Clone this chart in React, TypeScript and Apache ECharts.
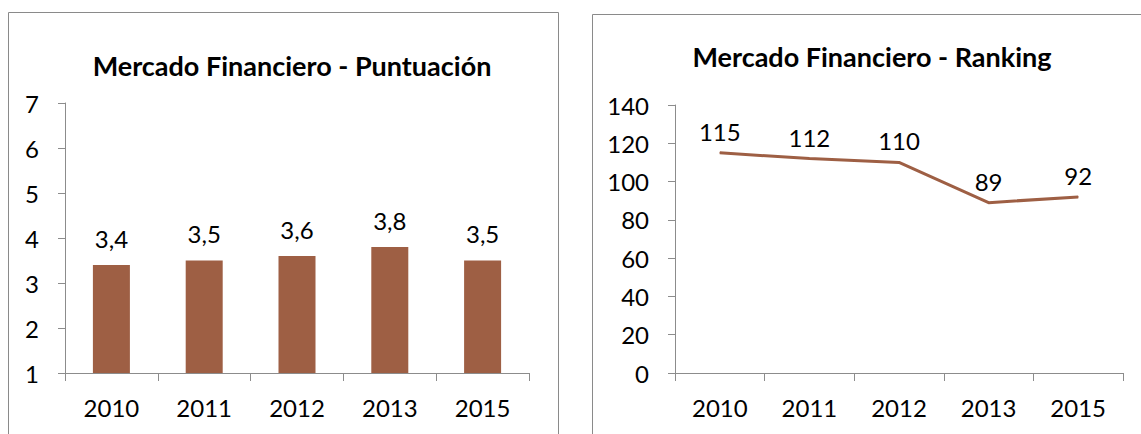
import React, { useEffect, useRef } from "react";
import * as echarts from "echarts";

const years = ["2010", "2011", "2012", "2013", "2015"];
const puntuacion = [3.4, 3.5, 3.6, 3.8, 3.5];
const ranking = [115, 112, 110, 89, 92];
const titleLeft = "Mercado Financiero - Puntuación";
const titleRight = "Mercado Financiero - Ranking";

const FONT = "Lato, 'Open Sans', sans-serif";
const BROWN = "#9E5F44";
const AXIS = "#8C8C8C";

export default function App() {
  const ref = useRef<HTMLDivElement>(null);
  useEffect(() => {
    if (!ref.current) return;
    const chart = echarts.init(ref.current, undefined, { renderer: "svg" });
    const axisLabel = { color: "#000", fontSize: 24, fontFamily: FONT };
    chart.setOption({
      animation: false,
      backgroundColor: "#fff",
      graphic: [
        { type: "rect", shape: { x: 8.5, y: 12.5, width: 550, height: 460 }, style: { fill: "none", stroke: "#8A8A8A", lineWidth: 1 } },
        { type: "rect", shape: { x: 592.5, y: 14.5, width: 600, height: 460 }, style: { fill: "none", stroke: "#8A8A8A", lineWidth: 1 } },
        { type: "text", x: 292, y: 65, style: { text: titleLeft, textAlign: "center", textVerticalAlign: "middle", font: `bold 27px ${FONT}`, fill: "#000" } },
        { type: "text", x: 872, y: 56, style: { text: titleRight, textAlign: "center", textVerticalAlign: "middle", font: `bold 27px ${FONT}`, fill: "#000" } },
      ],
      grid: [
        { left: 65, top: 103, width: 464, height: 270 },
        { left: 675, top: 105, width: 448, height: 268 },
      ],
      xAxis: [0, 1].map((i) => ({
        type: "category",
        gridIndex: i,
        data: years,
        boundaryGap: true,
        axisLine: { lineStyle: { color: AXIS, width: 1 } },
        axisTick: { show: true, length: 8, lineStyle: { color: AXIS }, alignWithLabel: false },
        axisLabel: { ...axisLabel, margin: 22 },
      })),
      yAxis: [
        {
          type: "value", gridIndex: 0, min: 1, max: 7, interval: 1,
          splitLine: { show: false },
          axisLine: { show: true, lineStyle: { color: AXIS } },
          axisTick: { show: true, length: 7, lineStyle: { color: AXIS } },
          axisLabel: { ...axisLabel, margin: 26 },
        },
        {
          type: "value", gridIndex: 1, min: 0, max: 140, interval: 20,
          splitLine: { show: false },
          axisLine: { show: true, lineStyle: { color: AXIS } },
          axisTick: { show: true, length: 7, lineStyle: { color: AXIS } },
          axisLabel: { ...axisLabel, margin: 26 },
        },
      ],
      series: [
        {
          type: "bar", xAxisIndex: 0, yAxisIndex: 0, data: puntuacion, barWidth: 37, clip: true,
          itemStyle: { color: BROWN },
          label: {
            show: true, position: "top", distance: 15, color: "#000", fontSize: 24, fontFamily: FONT,
            formatter: (p: any) => String(p.value).replace(".", ","),
          },
        },
        {
          type: "line", xAxisIndex: 1, yAxisIndex: 1, data: ranking,
          symbol: "circle", symbolSize: 1, showSymbol: true,
          itemStyle: { color: BROWN },
          lineStyle: { color: BROWN, width: 3 },
          label: { show: true, position: "top", distance: 9, color: "#000", fontSize: 24, fontFamily: FONT },
        },
      ],
    });
    return () => chart.dispose();
  }, []);
  return <div ref={ref} style={{ position: "fixed", left: 0, top: 0, width: 1141, height: 434 }} />;
}
